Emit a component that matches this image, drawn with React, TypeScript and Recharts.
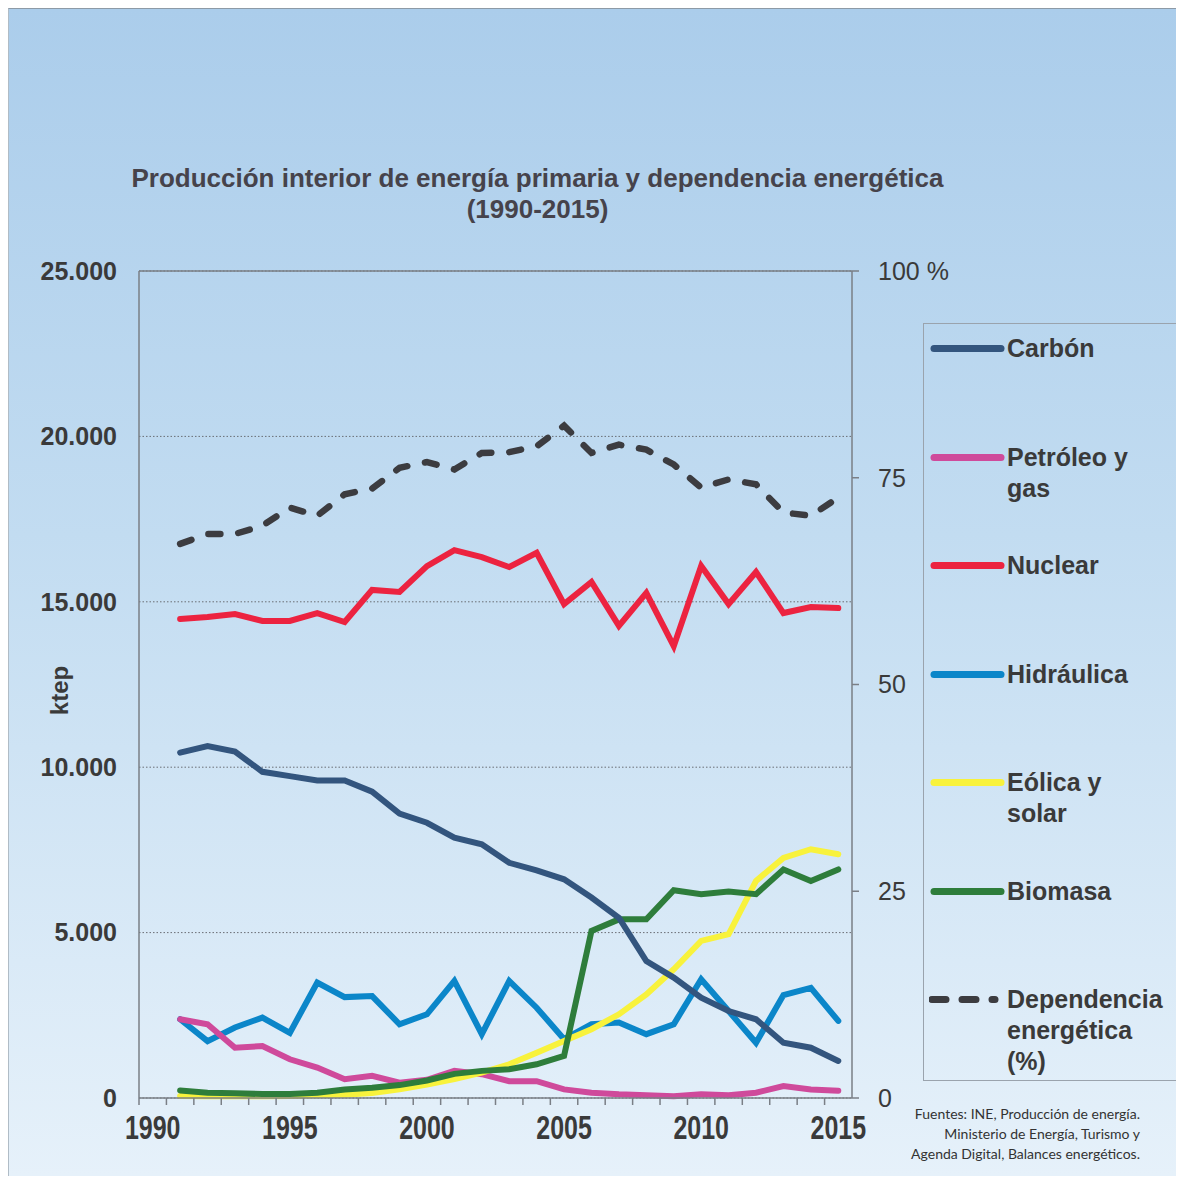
import React from 'react';
import {
  LineChart,
  Line,
  XAxis,
  YAxis,
  CartesianGrid,
  ReferenceLine,
  Legend,
} from 'recharts';

const years = [
  1991, 1992, 1993, 1994, 1995, 1996, 1997, 1998, 1999, 2000, 2001, 2002, 2003,
  2004, 2005, 2006, 2007, 2008, 2009, 2010, 2011, 2012, 2013, 2014, 2015,
];

// ktep
const carbon = [
  10440, 10640, 10470, 9860, 9730, 9600, 9600, 9260, 8600, 8320, 7870, 7670, 7110,
  6880, 6610, 6060, 5450, 4140, 3640, 3030, 2630, 2380, 1670, 1520, 1120,
];
const petroleo = [
  2380, 2230, 1520, 1570, 1170, 920, 570, 670, 460, 550, 820, 720, 510,
  510, 260, 160, 110, 80, 50, 110, 80, 160, 360, 260, 220,
];
const nuclear = [
  14480, 14540, 14630, 14420, 14420, 14660, 14390, 15360, 15300, 16080, 16560, 16350, 16050,
  16480, 14930, 15600, 14270, 15270, 13660, 16080, 14930, 15900, 14660, 14840, 14810,
];
const hidraulica = [
  2380, 1720, 2130, 2430, 1970, 3490, 3050, 3080, 2230, 2530, 3540, 1930, 3540,
  2730, 1780, 2230, 2280, 1930, 2230, 3590, 2630, 1670, 3110, 3330, 2330,
];
const eolica = [
  60, 50, 50, 50, 60, 80, 100, 150, 260, 410, 570, 770, 1020,
  1370, 1720, 2080, 2530, 3130, 3890, 4750, 4950, 6560, 7260, 7520, 7370,
];
const biomasa = [
  230, 160, 140, 120, 120, 160, 260, 310, 390, 530, 730, 820, 870,
  1020, 1270, 5050, 5400, 5400, 6280, 6160, 6240, 6160, 6910, 6560, 6910,
];
// %
const dependencia = [
  67.0, 68.2, 68.2, 69.2, 71.4, 70.4, 73.0, 73.7, 76.2, 76.9, 76.0, 78.0, 78.1,
  78.8, 81.3, 78.0, 79.0, 78.4, 76.6, 73.8, 74.8, 74.2, 70.8, 70.4, 72.6,
];

const axisYears = [
  1990, 1991, 1992, 1993, 1994, 1995, 1996, 1997, 1998, 1999, 2000, 2001, 2002,
  2003, 2004, 2005, 2006, 2007, 2008, 2009, 2010, 2011, 2012, 2013, 2014, 2015,
];
const yearLabels = [1990, 1995, 2000, 2005, 2010, 2015];
const ktepTicks = [0, 5000, 10000, 15000, 20000, 25000];
const pctTicks = [0, 25, 50, 75, 100];

const series = [
  { key: 'hidraulica', label: ['Hidráulica'], color: '#0b86c9', values: hidraulica },
  { key: 'petroleo', label: ['Petróleo y', 'gas'], color: '#cf4a9b', values: petroleo },
  { key: 'eolica', label: ['Eólica y', 'solar'], color: '#f8f23c', values: eolica },
  { key: 'biomasa', label: ['Biomasa'], color: '#2e7d3b', values: biomasa },
  { key: 'carbon', label: ['Carbón'], color: '#33557e', values: carbon },
  { key: 'nuclear', label: ['Nuclear'], color: '#ec2340', values: nuclear },
];
const legendOrder = ['carbon', 'petroleo', 'nuclear', 'hidraulica', 'eolica', 'biomasa', 'dependencia'];
const depColor = '#3c3c40';

const data = years.map((year, i) => {
  const row: Record<string, number> = { year, dependencia: dependencia[i] };
  series.forEach((s) => {
    row[s.key] = s.values[i];
  });
  return row;
});

const ARIAL = "'Liberation Sans', Arial, sans-serif";
const textColor = '#3a3a3a';
const axisColor = '#7a7f86';

const fmtKtep = (v: number) =>
  v === 0 ? '0' : `${Math.floor(v / 1000)}.${String(v % 1000).padStart(3, '0')}`;
const fmtPct = (v: number) => (v === 100 ? '100 %' : String(v));

const YearTick = ({ x, y, payload }: any) => (
  <g transform={`translate(${x},${y})`}>
    <text
      transform="scale(1,1.35)"
      y={23}
      textAnchor="middle"
      fontFamily={ARIAL}
      fontWeight={700}
      fontSize={25}
      fill={textColor}
    >
      {payload.value}
    </text>
  </g>
);

const KtepLabel = ({ viewBox }: any) => {
  const cx = viewBox.x + 50;
  const cy = viewBox.y + viewBox.height / 2 + 6;
  return (
    <text
      x={cx}
      y={cy}
      transform={`rotate(-90, ${cx}, ${cy})`}
      textAnchor="middle"
      dominantBaseline="central"
      fontFamily={ARIAL}
      fontWeight={700}
      fontSize={24}
      fill={textColor}
    >
      ktep
    </text>
  );
};

function LegendBox() {
  return (
    <div
      style={{
        position: 'relative',
        width: 254,
        height: 758,
        border: '1.5px solid #9aa3ad',
        boxSizing: 'border-box',
        fontFamily: ARIAL,
        fontWeight: 700,
        fontSize: 25,
        lineHeight: '31px',
        color: textColor,
      }}
    >
      {legendOrder.map((key, i) => {
        const s = series.find((d) => d.key === key);
        const lines = s ? s.label : ['Dependencia', 'energética', '(%)'];
        return (
          <div
            key={key}
            style={{ position: 'absolute', left: 5, top: 9 + i * 108.5, display: 'flex' }}
          >
            <svg width={78} height={31} style={{ flexShrink: 0 }}>
              {s ? (
                <line x1={5} y1={15.5} x2={72} y2={15.5} stroke={s.color} strokeWidth={7} strokeLinecap="round" />
              ) : (
                <line
                  x1={3}
                  y1={15.5}
                  x2={66}
                  y2={15.5}
                  stroke={depColor}
                  strokeWidth={7}
                  strokeLinecap="round"
                  strokeDasharray="14 16"
                />
              )}
            </svg>
            <div>
              {lines.map((l) => (
                <div key={l}>{l}</div>
              ))}
            </div>
          </div>
        );
      })}
    </div>
  );
}

export default function App() {
  return (
    <div
      style={{
        position: 'relative',
        width: 1176,
        height: 1168,
        background: 'linear-gradient(to bottom, #abcdeb 0%, #c2dcf1 45%, #e6f1fa 100%)',
        borderTop: '1px solid #8d9aa6',
        borderLeft: '1px solid #b0bcc6',
        boxSizing: 'border-box',
        overflow: 'hidden',
      }}
    >
      <div
        style={{
          position: 'absolute',
          left: 0,
          top: 154,
          width: 1057,
          textAlign: 'center',
          fontFamily: ARIAL,
          fontWeight: 700,
          fontSize: 26,
          lineHeight: '31px',
          color: '#46434b',
        }}
      >
        <div>Producción interior de energía primaria y dependencia energética</div>
        <div>(1990-2015)</div>
      </div>

      <LineChart
        width={1176}
        height={1168}
        data={data}
        margin={{ top: 262, right: 213, bottom: 19, left: 0 }}
      >
        <CartesianGrid
          xAxisId="main"
          yAxisId="ktep"
          vertical={false}
          stroke="#6a6e74"
          strokeDasharray="1.5 2"
        />
        <XAxis
          xAxisId="main"
          dataKey="year"
          type="number"
          domain={[1989.5, 2015.5]}
          ticks={axisYears.map((y) => y - 0.5)}
          tickFormatter={() => ''}
          interval={0}
          height={10}
          stroke={axisColor}
          tickSize={7}
          axisLine={{ stroke: axisColor, strokeWidth: 1.5 }}
          tickLine={{ stroke: axisColor, strokeWidth: 1.5 }}
        />
        <XAxis
          xAxisId="years"
          dataKey="year"
          type="number"
          domain={[1989.5, 2015.5]}
          ticks={yearLabels}
          interval={0}
          height={50}
          axisLine={false}
          tickLine={false}
          tickSize={0}
          tickMargin={0}
          tick={<YearTick />}
        />
        <YAxis
          yAxisId="ktep"
          orientation="left"
          domain={[0, 25000]}
          ticks={ktepTicks}
          interval={0}
          width={130}
          tickFormatter={fmtKtep}
          axisLine={{ stroke: axisColor, strokeWidth: 1.5 }}
          tickLine={false}
          tickSize={0}
          tickMargin={22}
          tick={{ fontFamily: ARIAL, fontWeight: 700, fontSize: 25, fill: textColor }}
          label={<KtepLabel />}
        />
        <YAxis
          yAxisId="pct"
          orientation="right"
          domain={[0, 100]}
          ticks={pctTicks}
          interval={0}
          width={120}
          tickFormatter={fmtPct}
          axisLine={{ stroke: axisColor, strokeWidth: 1.5 }}
          tickLine={{ stroke: axisColor, strokeWidth: 1.5 }}
          tickSize={7}
          tickMargin={19}
          tick={{ fontFamily: ARIAL, fontWeight: 400, fontSize: 25, fill: textColor }}
        />
        <ReferenceLine xAxisId="main" yAxisId="ktep" y={25000} stroke={axisColor} strokeWidth={1.5} />

        {series.map((s) => (
          <Line
            key={s.key}
            xAxisId="main"
            yAxisId="ktep"
            type="linear"
            dataKey={s.key}
            stroke={s.color}
            strokeWidth={6}
            strokeLinecap="round"
            dot={false}
            activeDot={false}
            isAnimationActive={false}
          />
        ))}
        <Line
          xAxisId="main"
          yAxisId="pct"
          type="linear"
          dataKey="dependencia"
          stroke={depColor}
          strokeWidth={6.5}
          strokeLinecap="round"
          strokeDasharray="12 18"
          dot={false}
          activeDot={false}
          isAnimationActive={false}
        />
        <Legend
          layout="horizontal"
          verticalAlign="middle"
          align="center"
          content={() => <LegendBox />}
          wrapperStyle={{ left: 914, top: 314, width: 254, height: 758 }}
        />
      </LineChart>

      <div
        style={{
          position: 'absolute',
          right: 44,
          top: 1095,
          textAlign: 'right',
          fontFamily: "Lato, 'Open Sans', sans-serif",
          fontSize: 14,
          lineHeight: '20px',
          color: '#333',
        }}
      >
        <div>Fuentes: INE, Producción de energía.</div>
        <div>Ministerio de Energía, Turismo y</div>
        <div>Agenda Digital, Balances energéticos.</div>
      </div>
    </div>
  );
}
